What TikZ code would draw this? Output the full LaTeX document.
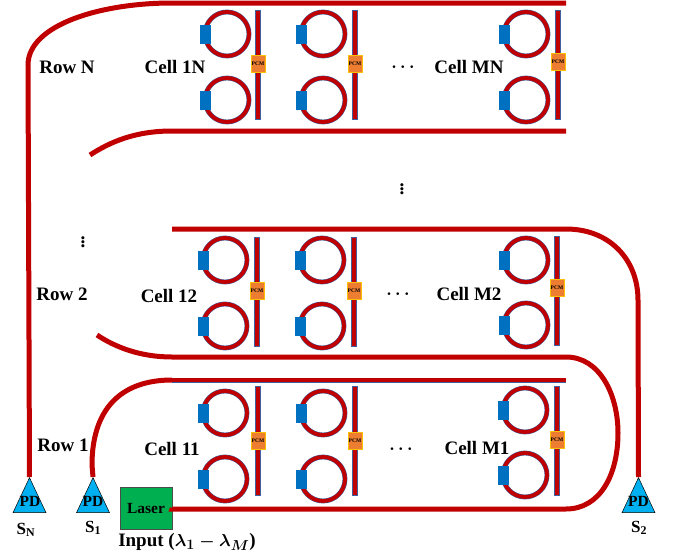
\documentclass[tikz,border=0pt]{standalone}
\usepackage{fontspec}
\setmainfont{Liberation Serif}
\usetikzlibrary{shapes.geometric}
\definecolor{wgred}{HTML}{C00000}
\definecolor{wgblue}{HTML}{3F5F9F}
\definecolor{padblue}{HTML}{0070C0}
\definecolor{pcmfill}{HTML}{ED7D31}
\definecolor{pcmedge}{HTML}{FFC000}
\definecolor{pdfill}{HTML}{00B0F0}
\definecolor{laserfill}{HTML}{00B050}
\tikzset{ring/.style = {circle, draw=wgblue, line width=0.5pt, double=wgred, double distance=3.8pt, minimum size=44pt, inner sep=0pt},
         pad/.style = {rectangle, fill=padblue, minimum width=11pt, minimum height=19pt, inner sep=0pt},
         bar/.style = {rectangle, draw=wgblue, line width=0.4pt, fill=wgred, minimum width=5pt, minimum height=109pt, inner sep=0pt},
         pcm/.style = {rectangle, draw=pcmedge, line width=0.7pt, fill=pcmfill, minimum width=14pt, minimum height=17pt, inner sep=0pt, font=\bfseries\fontsize{5.5}{6}\selectfont},
         pd/.style = {isosceles triangle, isosceles triangle stretches, shape border rotate=90, draw=black, line width=0.5pt, fill=pdfill, minimum width=33pt, minimum height=35pt, inner sep=0pt, anchor=apex},
         wg/.style = {wgred, line width=5pt},
         wgedge/.style = {draw=wgblue, line width=0.5pt, double=wgred, double distance=4pt},
         txt/.style = {inner sep=0pt, font=\bfseries\fontsize{19}{21}\selectfont},
         pdtxt/.style = {inner sep=0pt, font=\bfseries\fontsize{15.5}{17}\selectfont},
         stxt/.style = {inner sep=0pt, font=\bfseries\fontsize{17}{19}\selectfont}}

\begin{document}
\begin{tikzpicture}[x=1pt, y=-1pt]
    \useasboundingbox (0,0) rectangle (673,560);
    % waveguide ends
    \coordinate (nl) at (172,3);   \coordinate (nr) at (566,3);
    \coordinate (ml) at (172,131); \coordinate (mr) at (566,131);
    \coordinate (mc) at (90,155);
    \coordinate (tl) at (172,229); \coordinate (tr) at (566,229);
    \coordinate (bl) at (172,357); \coordinate (br) at (566,357);
    \coordinate (bc) at (97,335);
    \coordinate (ol) at (172,380); \coordinate (or) at (566,380);
    \coordinate (il) at (172,509); \coordinate (ir) at (566,509);
    % detectors and laser
    \node[pd] (pdN) at (29.5,477) {}; \node[pd] (pd1) at (93,477) {}; \node[pd] (pd2) at (638.5,477) {};
    \node[pdtxt] (lN) at (30,501) {PD}; \node[pdtxt] (l1) at (93,501) {PD}; \node[pdtxt] (l2) at (638.5,501) {PD};
    \node[rectangle, draw=black!70, line width=0.7pt, fill=laserfill, minimum width=52pt, minimum height=42pt, inner sep=0pt, pdtxt] (laser) at (146,508) {Laser};
    % waveguides
    \draw[wg] (pdN.apex) -- (28,65) .. controls (28,25) and (100,3) .. (nl) -- (nr);
    \draw[wg] (mc) .. controls (110,142) and (135,131) .. (ml) -- (mr);
    \draw[wg] (tl) -- (tr) .. controls (610,229) and (638,260) .. (638,300) -- (pd2.apex);
    \draw[wg] (bc) .. controls (115,347) and (140,357) .. (bl) -- (br) .. controls (600,357) and (618,395) .. (618,433) .. controls (618,475) and (600,509) .. (ir) -- (il) -- (laser.east);
    \draw[wg] (pd1.apex) -- (92,465) .. controls (92,410) and (120,380) .. (ol);
    \draw[wgedge] (ol) -- (or);
    % cells
    \foreach \cellname/\xr/\yu/\yd/\xb/\yb/\ypcm in {a/227/34/100/258/65/64, b/323/34/100/355/65/64, c/526/34/100/558/65/62,
                                                     d/225/260/326/257/292/291, e/322/260/326/354/292/291, f/526/260/325/557/291/288,
                                                     g/225/413/479/258/441/441, h/323/413/479/355/441/441, i/525/410/475/557/441/440} {
        \node[ring] (\cellname up) at (\xr,\yu) {};
        \node[ring] (\cellname dn) at (\xr,\yd) {};
        \node[pad] (\cellname pu) at (\xr-22,\yu) {};
        \node[pad] (\cellname pd) at (\xr-22,\yd) {};
        \node[bar] (\cellname bar) at (\xb,\yb) {};
        \node[pcm] (\cellname pcm) at (\xb,\ypcm) {PCM};
    }
    % labels
    \node[txt] (rowN) at (67,67) {Row N};
    \node[txt] (row2) at (62,294) {Row 2};
    \node[txt] (row1) at (63,445) {Row 1};
    \node[txt] (c1N) at (175,67) {Cell 1N};
    \node[txt] (cMN) at (469,67) {Cell MN};
    \node[txt] (c12) at (169,296) {Cell 12};
    \node[txt] (cM2) at (469,294) {Cell M2};
    \node[txt] (c11) at (172,449) {Cell 11};
    \node[txt] (cM1) at (477,448) {Cell M1};
    \node[txt] (dN) at (403,67) {{\boldmath$\cdots$}};
    \node[txt] (d2) at (398,294) {{\boldmath$\cdots$}};
    \node[txt] (d1) at (401,449) {{\boldmath$\cdots$}};
    \node[txt] (vm) at (402,186) {{\boldmath$\vdots$}};
    \node[txt] (vl) at (83,239) {{\boldmath$\vdots$}};
    \node[stxt] (sN) at (26,530) {S\textsubscript{N}};
    \node[stxt] (s1) at (93,528) {S\textsubscript{1}};
    \node[stxt] (s2) at (639,528) {S\textsubscript{2}};
    \node[txt] (input) at (187,542) {Input ({\boldmath$\lambda_1-\lambda_M$})};
\end{tikzpicture}
\end{document}
